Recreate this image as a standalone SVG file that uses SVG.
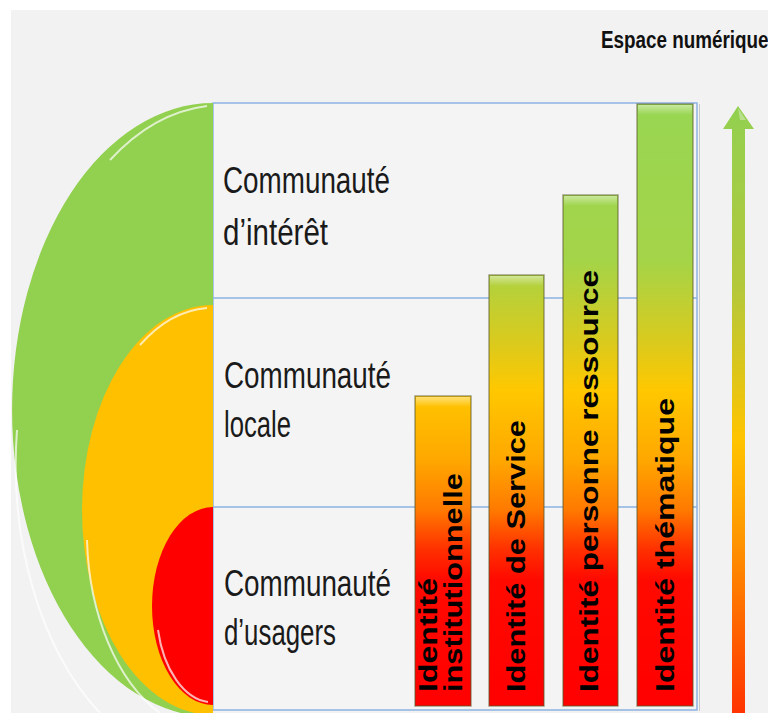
<svg xmlns="http://www.w3.org/2000/svg" width="768" height="713" viewBox="0 0 768 713">
  <defs>
    <linearGradient id="barGrad" gradientUnits="userSpaceOnUse" x1="0" y1="104" x2="0" y2="706">
      <stop offset="0" stop-color="#98d652"/>
      <stop offset="0.26" stop-color="#a4d448"/>
      <stop offset="0.40" stop-color="#dcca1c"/>
      <stop offset="0.475" stop-color="#ffc800"/>
      <stop offset="0.59" stop-color="#ffa800"/>
      <stop offset="0.674" stop-color="#ff7a00"/>
      <stop offset="0.74" stop-color="#ff3000"/>
      <stop offset="0.79" stop-color="#ff0a00"/>
      <stop offset="1" stop-color="#ff0000"/>
    </linearGradient>
    <linearGradient id="arrowGrad" gradientUnits="userSpaceOnUse" x1="0" y1="106" x2="0" y2="713">
      <stop offset="0" stop-color="#92d050"/>
      <stop offset="0.3" stop-color="#b4c83a"/>
      <stop offset="0.55" stop-color="#ffc400"/>
      <stop offset="0.7" stop-color="#ff9a00"/>
      <stop offset="1" stop-color="#ff3300"/>
    </linearGradient>
    <linearGradient id="bevelTop" x1="0" y1="0" x2="0" y2="1">
      <stop offset="0" stop-color="#ffffff" stop-opacity="0.45"/>
      <stop offset="1" stop-color="#ffffff" stop-opacity="0"/>
    </linearGradient>
  </defs>
  <style>
    .lbl { font-family: "Liberation Sans", Arial, sans-serif; font-size: 37px; fill: #1a1a1a; }
    .bar { fill: url(#barGrad); stroke: #5a5a2a; stroke-opacity: 0.55; stroke-width: 1.5; }
    .bevel { fill: url(#bevelTop); }
    .btxt { font-family: "Liberation Sans", Arial, sans-serif; font-weight: bold; font-size: 25px; fill: #000; }
    .tline { stroke: #8db3e2; stroke-width: 1.5; fill: none; }
    .rim { fill: none; stroke: #ffffff; stroke-width: 2; stroke-opacity: 0.7; }
  </style>

  <rect x="0" y="0" width="768" height="713" fill="#ffffff"/>
  <rect x="11" y="10" width="757" height="703" fill="#f2f2f2"/>

  <g id="table">
    <rect x="213" y="103" width="484" height="607" fill="#f4f4f4" stroke="#8db3e2" stroke-width="1.5"/>
    <line class="tline" x1="213" y1="298" x2="697" y2="298"/>
    <line class="tline" x1="213" y1="507" x2="697" y2="507"/>
    <line x1="699.5" y1="104" x2="699.5" y2="711" stroke="#c8c8c8" stroke-width="1"/>
  </g>

  <g id="ellipse-interet">
    <path d="M213,103 A201,307 0 0 0 213,717 Z" fill="#92d050"/>
    <path class="rim" d="M207,106 A196,302 0 0 0 110,160" stroke="#e0f5b8"/>
    <path class="rim" d="M17,430 A196,302 0 0 0 100,713" stroke="#e0f5b8"/>
  </g>
  <g id="ellipse-locale">
    <path d="M213,305 A131,205 0 0 0 213,715 Z" fill="#ffc000"/>
    <path class="rim" d="M207,308 A126,200 0 0 0 140,345" stroke="#fff090"/>
    <path class="rim" d="M87,540 A126,200 0 0 0 160,713" stroke="#fff090"/>
  </g>
  <g id="ellipse-usagers">
    <path d="M213,507 A61,99 0 0 0 213,705 Z" fill="#ff0000"/>
    <path class="rim" d="M158,630 A56,94 0 0 0 208,702" stroke="#ffb8b8"/>
  </g>

  <g id="label-interet">
    <text class="lbl" x="223" y="193" textLength="167" lengthAdjust="spacingAndGlyphs">Communauté</text>
    <text class="lbl" x="223" y="245" textLength="105" lengthAdjust="spacingAndGlyphs">d’intérêt</text>
  </g>
  <g id="label-locale">
    <text class="lbl" x="224" y="388" textLength="167" lengthAdjust="spacingAndGlyphs">Communauté</text>
    <text class="lbl" x="224" y="437" textLength="67" lengthAdjust="spacingAndGlyphs">locale</text>
  </g>
  <g id="label-usagers">
    <text class="lbl" x="224" y="596" textLength="167" lengthAdjust="spacingAndGlyphs">Communauté</text>
    <text class="lbl" x="224" y="645" textLength="112" lengthAdjust="spacingAndGlyphs">d’usagers</text>
  </g>

  <g id="bar-institutionnelle">
    <rect class="bar" x="415" y="396" width="56" height="310"/>
    <rect class="bevel" x="416" y="397" width="54" height="10"/>
    <text class="btxt" font-size="21" transform="translate(437,692) rotate(-90)" textLength="114" lengthAdjust="spacingAndGlyphs">Identité</text>
    <text class="btxt" font-size="21" transform="translate(462,692) rotate(-90)" textLength="219" lengthAdjust="spacingAndGlyphs">institutionnelle</text>
  </g>
  <g id="bar-service">
    <rect class="bar" x="489" y="275" width="55" height="431"/>
    <rect class="bevel" x="490" y="276" width="53" height="10"/>
    <text class="btxt" transform="translate(525,692) rotate(-90)" textLength="272" lengthAdjust="spacingAndGlyphs">Identité de Service</text>
  </g>
  <g id="bar-ressource">
    <rect class="bar" x="563" y="195" width="55" height="511"/>
    <rect class="bevel" x="564" y="196" width="53" height="10"/>
    <text class="btxt" transform="translate(598,692) rotate(-90)" textLength="422" lengthAdjust="spacingAndGlyphs">Identité  personne ressource</text>
  </g>
  <g id="bar-thematique">
    <rect class="bar" x="637" y="104" width="56" height="602"/>
    <rect class="bevel" x="638" y="105" width="54" height="10"/>
    <text class="btxt" transform="translate(674,692) rotate(-90)" textLength="294" lengthAdjust="spacingAndGlyphs">Identité thématique</text>
  </g>

  <g id="connectors">
    <path d="M738,106 L754,129 L745,129 L745,713 L732,713 L732,129 L723,129 Z" fill="url(#arrowGrad)"/>
    <path d="M738,108 L746,120 L740,120 Z" fill="#ffffff" fill-opacity="0.35"/>
  </g>

  <g id="title">
    <text transform="translate(601,48) scale(0.82,1)" font-family="'Liberation Sans', Arial, sans-serif" font-weight="bold" font-size="23" fill="#111">Espace numérique</text>
  </g>
</svg>
